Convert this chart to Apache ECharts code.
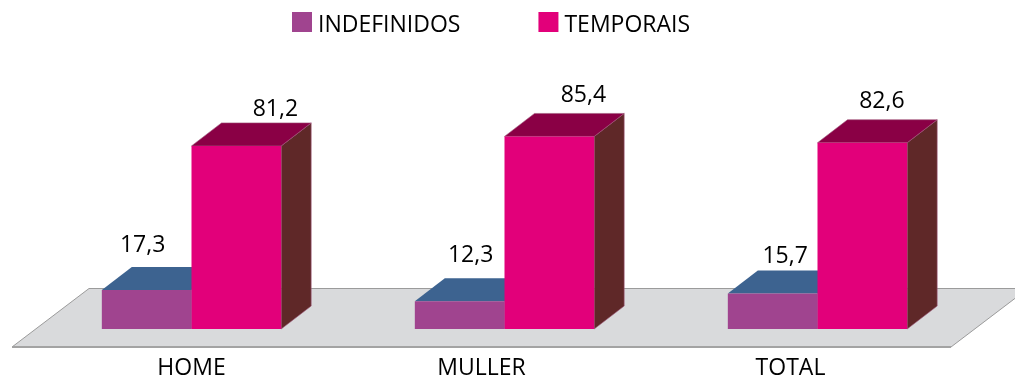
<!DOCTYPE html>
<html><head><meta charset="utf-8">
<style>html,body{margin:0;padding:0;background:#fff}#c{width:1015px;height:380px}</style>
<script src="https://cdn.jsdelivr.net/npm/echarts@6/dist/echarts.min.js"></script>
</head><body><div id="c"></div>
<script>
const categories = ['HOME', 'MULLER', 'TOTAL'];
const indefinidos = [17.3, 12.3, 15.7];
const temporais = [81.2, 85.4, 82.6];
const fmt = v => v.toFixed(1).replace('.', ',');

// layout constants
const FONT = '"Open Sans","Noto Sans",sans-serif';
const FS = 23;
const INK = '#000';
const DX = 30, DY = -23, BAR_FRAC = 0.2865;
const indefNudge = [[-4, -44.5], [11, -46], [12.5, -37.5]];
const tempNudge = [[39, -36.5], [34, -40.5], [19.5, -41.5]];

function barRender(sign, nudges, cols) {
  return function (params, api) {
    const i = api.value(0), v = api.value(1);
    const base = api.coord([i, 0]), top = api.coord([i, v]);
    const w = api.size([1, 0])[0] * BAR_FRAC;
    const x0 = sign < 0 ? base[0] - w : base[0], x1 = x0 + w;
    const yb = base[1], yt = top[1];
    const poly = (points, fill, stroke) => ({
      type: 'polygon', shape: { points },
      style: { fill, stroke: stroke || null, lineWidth: stroke ? 0.6 : 0 }
    });
    return {
      type: 'group', children: [
        poly([[x1, yb], [x1 + DX, yb + DY], [x1 + DX, yt + DY], [x1, yt]], cols.side, cols.edge),
        poly([[x0, yt], [x0 + DX, yt + DY], [x1 + DX, yt + DY], [x1, yt]], cols.top, cols.edge),
        poly([[x0, yb], [x1, yb], [x1, yt], [x0, yt]], cols.front),
        {
          type: 'text',
          style: {
            x: (x0 + x1) / 2 + nudges[i][0], y: yt + nudges[i][1],
            text: fmt(v), align: 'center', verticalAlign: 'middle',
            fill: INK, font: FS + 'px ' + FONT
          }
        }
      ]
    };
  };
}

function floorRender(params, api) {
  const c = params.coordSys;
  const b = c.y + c.height, yf = b + 18, yk = b - 40.5;
  const xl = c.x - 23, xr = c.x + c.width - 23;
  return {
    type: 'group', children: [
      { type: 'polygon', shape: { points: [[xl, yf], [xl + 77, yk], [xr + 77, yk], [xr, yf]] },
        style: { fill: '#d9dadc', stroke: '#9b9b9b', lineWidth: 1 } },
      { type: 'line', shape: { x1: xl, y1: yf, x2: xr, y2: yf },
        style: { stroke: '#a3a3a3', lineWidth: 2 } }
    ]
  };
}

const chart = echarts.init(document.getElementById('c'), null, { renderer: 'canvas' });
chart.setOption({
  animation: false,
  backgroundColor: '#fff',
  legend: {
    data: ['INDEFINIDOS', 'TEMPORAIS'], left: 287, top: 7, icon: 'rect',
    itemWidth: 20, itemHeight: 20, itemGap: 78,
    formatter: name => '{a|' + name + '}',
    textStyle: {
      fontFamily: FONT, fontSize: FS, color: INK,
      rich: { a: { fontFamily: FONT, fontSize: FS, color: INK, padding: [7, 0, 0, 1] } }
    },
    selectedMode: false
  },
  grid: { left: 35, width: 939, top: 103.5, height: 225.5 },
  xAxis: {
    type: 'category', data: categories,
    axisLine: { show: false }, axisTick: { show: false },
    axisLabel: {
      margin: 28, interval: 0, color: INK, fontFamily: FONT, fontSize: FS,
      formatter: v => '{' + v + '|' + v + '}',
      rich: {
        HOME: { fontFamily: FONT, fontSize: FS, color: INK },
        MULLER: { fontFamily: FONT, fontSize: FS, color: INK, padding: [0, 46, 0, 0] },
        TOTAL: { fontFamily: FONT, fontSize: FS, color: INK, padding: [0, 54, 0, 0] }
      }
    }
  },
  yAxis: { type: 'value', min: 0, max: 100, show: false, splitLine: { show: false } },
  series: [
    { type: 'custom', name: 'floor', silent: true, z: 1, clip: false, data: [[0, 0]],
      encode: { x: 0, y: 1 }, renderItem: floorRender },
    { type: 'custom', name: 'INDEFINIDOS', z: 2, clip: false,
      itemStyle: { color: '#a0448f' },
      data: indefinidos.map((v, i) => [i, v]), encode: { x: 0, y: 1 },
      renderItem: barRender(-1, indefNudge, { front: '#a0448f', top: '#3d6390', side: '#3d6390' }) },
    { type: 'custom', name: 'TEMPORAIS', z: 3, clip: false,
      itemStyle: { color: '#e2007a' },
      data: temporais.map((v, i) => [i, v]), encode: { x: 0, y: 1 },
      renderItem: barRender(1, tempNudge, { front: '#e2007a', top: '#8a0045', side: '#5f2828', edge: '#a0587a' }) }
  ]
});
</script></body></html>
